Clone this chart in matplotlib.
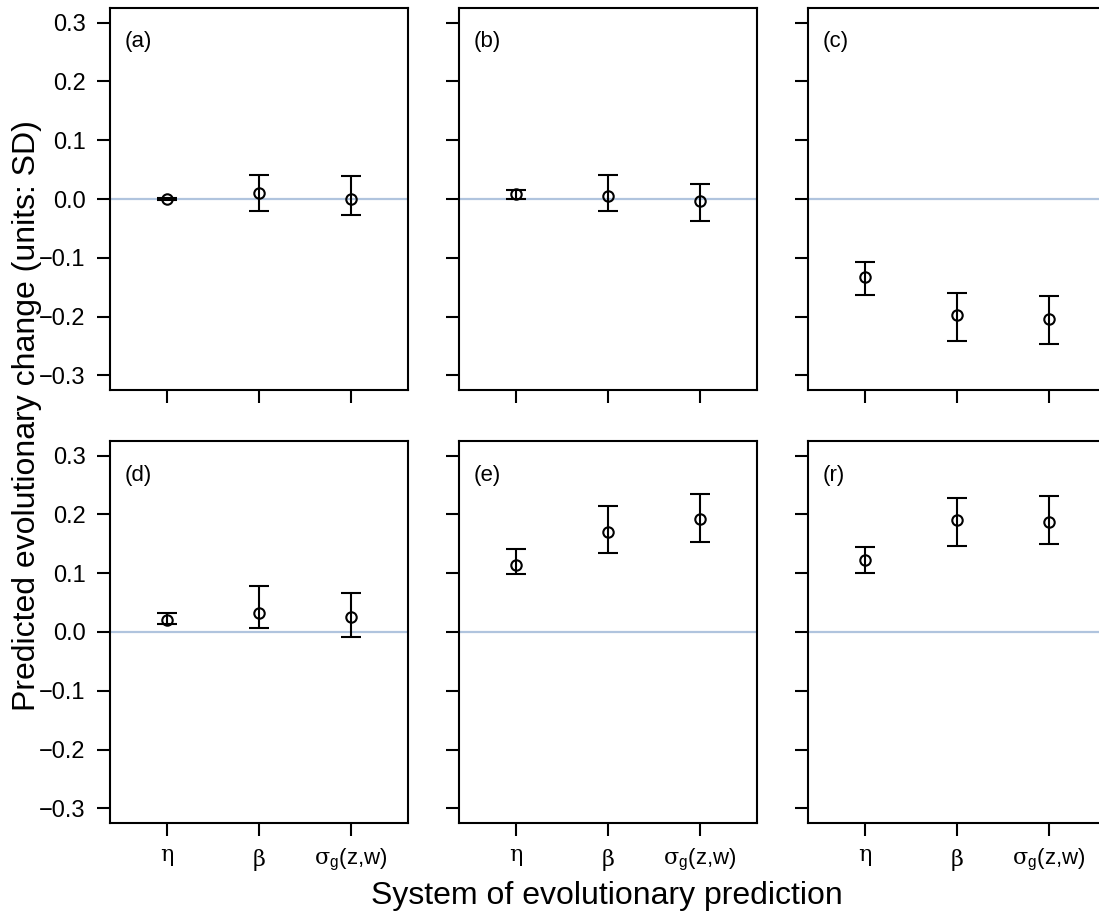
import numpy as np
import matplotlib
matplotlib.use("Agg")
import matplotlib.pyplot as plt

plt.rcParams['font.family'] = ['Liberation Sans', 'DejaVu Sans']
plt.rcParams['mathtext.fontset'] = 'custom'
plt.rcParams['mathtext.rm'] = 'DejaVu Serif'
plt.rcParams['mathtext.sf'] = 'Liberation Sans'
plt.rcParams['mathtext.it'] = 'DejaVu Serif:italic'

# ── Data ──────────────────────────────────────────────────
panel_labels = ["(a)", "(b)", "(c)", "(d)", "(e)", "(r)"]
tick_labels = [r"$\mathrm{\eta}$", r"$\mathrm{\beta}$",
               r"$\mathrm{\sigma}_{\mathsf{g}}$(z,w)"]

est_a = [0.000, 0.010, 0.000]
lo_a  = [-0.002, -0.021, -0.028]
hi_a  = [0.002, 0.040, 0.039]

est_b = [0.008, 0.005, -0.004]
lo_b  = [0.000, -0.020, -0.037]
hi_b  = [0.015, 0.040, 0.026]

est_c = [-0.132, -0.197, -0.205]
lo_c  = [-0.164, -0.241, -0.246]
hi_c  = [-0.107, -0.160, -0.165]

est_d = [0.021, 0.033, 0.025]
lo_d  = [0.013, 0.006, -0.008]
hi_d  = [0.032, 0.079, 0.066]

est_e = [0.114, 0.170, 0.193]
lo_e  = [0.098, 0.134, 0.153]
hi_e  = [0.142, 0.214, 0.235]

est_r = [0.122, 0.190, 0.188]
lo_r  = [0.101, 0.147, 0.150]
hi_r  = [0.144, 0.228, 0.231]

panels = [(est_a, lo_a, hi_a), (est_b, lo_b, hi_b), (est_c, lo_c, hi_c),
          (est_d, lo_d, hi_d), (est_e, lo_e, hi_e), (est_r, lo_r, hi_r)]

# ── Figure ───────────────────────────────────────────────
fig = plt.figure(figsize=(10.99, 9.19), dpi=100)
W, H = 1099, 919
lefts = [110, 459, 808]
tops = [8, 441]
aw, ah = 298, 382

x = np.arange(1, 4)
for i, (est, lo, hi) in enumerate(panels):
    r, c = divmod(i, 3)
    ax = fig.add_axes([lefts[c] / W, 1 - (tops[r] + ah) / H, aw / W, ah / H])
    est = np.array(est); lo = np.array(lo); hi = np.array(hi)
    ax.axhline(0, color="#B0C4DE", lw=1.6, zorder=1)
    ax.errorbar(x, est, yerr=[est - lo, hi - est], fmt='o', mfc='none', mec='black',
                mew=1.5, ms=7.5, ecolor='black', elinewidth=1.5, capsize=7.5,
                capthick=1.5, zorder=3)
    ax.set_xlim(0.38, 3.62)
    ax.set_ylim(-0.325, 0.325)
    ax.set_yticks([-0.3, -0.2, -0.1, 0.0, 0.1, 0.2, 0.3])
    ax.set_xticks(x)
    for s in ax.spines.values():
        s.set_linewidth(1.5)
    ax.tick_params(direction='out', length=9.5, width=1.5, labelsize=17, pad=8)
    if c == 0:
        ax.set_yticklabels(["\u22120.3", "\u22120.2", "\u22120.1", "0.0", "0.1", "0.2", "0.3"])
    else:
        ax.set_yticklabels([])
    if r == 1:
        ax.set_xticklabels(tick_labels, fontsize=16)
    else:
        ax.set_xticklabels([])
    ax.text(15 / aw, 1 - 34 / ah, panel_labels[i], transform=ax.transAxes,
            fontsize=16, va='center', ha='left')

fig.text(27 / W, 1 - 416 / H, "Predicted evolutionary change (units: SD)",
         rotation=90, fontsize=23, ha='center', va='center')
fig.text(607 / W, 1 - 896 / H, "System of evolutionary prediction",
         fontsize=23, ha='center', va='center')

fig.savefig("out.png", dpi=100)
